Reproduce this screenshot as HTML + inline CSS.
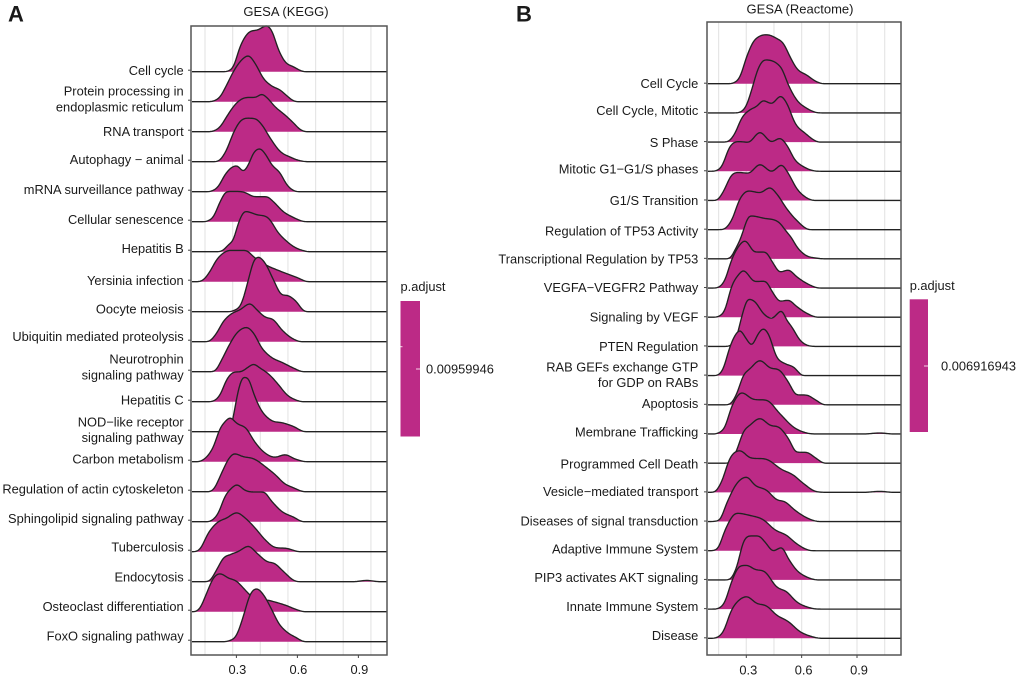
<!DOCTYPE html>
<html lang="en">
<head>
<meta charset="utf-8">
<title>GESA ridgeline plots</title>
<style>
html,body{margin:0;padding:0;background:#fff;}
#chart{display:block;width:1020px;height:679px;}
text{font-family:"Liberation Sans",Arial,sans-serif;fill:#1a1a1a;}
</style>
</head>
<body>
<svg id="chart" xmlns="http://www.w3.org/2000/svg" width="1020" height="679" viewBox="0 0 1020 679"></svg>
<script>
// ---------- Panel A (KEGG) data ----------
const categoriesA = ["Cell cycle","Protein processing in\nendoplasmic reticulum","RNA transport","Autophagy \u2212 animal","mRNA surveillance pathway","Cellular senescence","Hepatitis B","Yersinia infection","Oocyte meiosis","Ubiquitin mediated proteolysis","Neurotrophin \nsignaling pathway","Hepatitis C","NOD\u2212like receptor\nsignaling pathway","Carbon metabolism","Regulation of actin cytoskeleton","Sphingolipid signaling pathway","Tuberculosis","Endocytosis","Osteoclast differentiation","FoxO signaling pathway"];
const enrichmentA = [
[.26,.285,.318,.359,.408,.449,.474,.507,.539,.58,.638],
[.187,.22,.252,.285,.318,.359,.392,.433,.474,.515,.548,.58,.605],
[.187,.22,.252,.285,.318,.359,.392,.425,.449,.49,.539,.58,.613,.646],
[.211,.252,.285,.318,.351,.392,.425,.466,.515,.564,.613,.654],
[.179,.211,.244,.277,.302,.334,.359,.384,.416,.441,.474,.515,.548,.58,.605],
[.162,.187,.22,.252,.285,.334,.392,.449,.482,.531,.58,.63],
[.228,.261,.285,.31,.343,.4,.457,.507,.548,.58,.63,.654],
[.105,.138,.17,.203,.236,.269,.343,.392,.449,.498,.548,.597,.654],
[.285,.326,.359,.384,.408,.441,.482,.523,.556,.589,.638],
[.17,.203,.236,.269,.318,.367,.4,.441,.482,.523,.58,.621],
[.195,.228,.261,.302,.351,.384,.425,.466,.531,.58,.63],
[.187,.22,.252,.285,.326,.359,.384,.416,.466,.507,.548,.589,.63],
[.269,.285,.31,.334,.359,.384,.416,.466,.531,.58,.638],
[.105,.146,.187,.22,.244,.269,.302,.351,.384,.433,.49,.539,.589,.646],
[.187,.228,.26,.29,.334,.384,.449,.498,.531,.58,.638],
[.179,.211,.244,.277,.302,.343,.384,.433,.474,.523,.58,.63],
[.09,.121,.162,.203,.252,.302,.343,.392,.441,.49,.548,.613],
[.17,.203,.236,.269,.31,.359,.4,.449,.49,.531,.589,.613,.875,.941,1.006],
[.09,.121,.154,.187,.22,.26,.302,.334,.375,.466,.548,.597,.638],
[.26,.302,.334,.367,.4,.433,.474,.507,.548,.589,.638]
];
const densityA = [
[.07,.5,2.5,3.9,4.2,4.6,4.1,2.2,1,.5,0],
[.07,.5,1.67,3,4,4.6,3.83,2.33,1.57,1.17,.6,.1,0],
[.07,.5,1.5,2.5,3.17,3.43,3.43,3.75,3.43,2.5,1.67,.9,.23,0],
[.07,1.2,2.87,4.03,4.35,4.3,3.7,2.37,1.03,.47,.1,0],
[.07,.53,1.7,2.43,2.6,2.05,2.7,3.87,4.3,3.8,2.7,1.87,.7,.13,0],
[.1,.5,2,3,3.03,2.97,2.5,2.5,2,1,.43,.03],
[.07,.7,1.2,2.87,4.03,3.7,3.37,1.87,1.03,.53,.1,0],
[0,.2,1.03,2.2,2.87,3.13,3.13,2.37,1.63,1.2,.8,.43,0],
[.1,.87,3.2,5.03,5.47,4.87,3.2,1.7,1.6,1.13,.03],
[.1,.87,2.03,2.7,3.2,3.8,3.2,2.47,2.2,1.2,.27,0],
[.1,1.2,2.53,3.87,4.43,3.87,2.37,1.53,.87,.37,0],
[.07,.7,2.2,2.93,3.03,3.47,3.75,3.37,2.63,1.7,.7,.2,0],
[.1,1.53,4.2,5.45,5.3,3.87,2.37,1.2,.87,.53,0],
[0,.33,1.5,3.33,4,4.4,3.83,3.27,2.17,1,.45,.7,.27,0],
[.23,1.9,3.23,3.8,3.5,3.3,2.4,1.57,.9,.4,0],
[.13,.87,2.53,3.37,3.7,3.13,2.97,2.97,2.03,1.03,.47,0],
[0,.27,1.87,2.87,3.37,3.9,3.37,2.37,1.2,.43,.33,0],
[.13,1.2,2.37,2.7,3.03,3.55,2.87,2.03,1.8,1.03,.07,0,0,.13,0],
[0,.37,1.87,3.37,3.8,3.37,3.03,2.37,1.53,1.1,.6,.2,0],
[.07,.7,2.53,4.7,5.3,4.7,3.2,1.87,.97,.47,0]
];
const tickLabelsA = ["0.3","0.6","0.9"];
const legendValueA = "0.00959946";

// ---------- Panel B (Reactome) data ----------
const categoriesB = ["Cell Cycle","Cell Cycle, Mitotic","S Phase","Mitotic G1\u2212G1/S phases","G1/S Transition","Regulation of TP53 Activity","Transcriptional Regulation by TP53","VEGFA\u2212VEGFR2 Pathway","Signaling by VEGF","PTEN Regulation","RAB GEFs exchange GTP \nfor GDP on RABs","Apoptosis","Membrane Trafficking","Programmed Cell Death","Vesicle\u2212mediated transport","Diseases of signal transduction","Adaptive Immune System","PIP3 activates AKT signaling","Innate Immune System","Disease"];
const enrichmentB = [
[.23,.266,.302,.338,.374,.41,.464,.501,.537,.573,.627,.681,.717],
[.266,.302,.329,.365,.401,.464,.491,.528,.573,.627,.699],
[.202,.239,.275,.32,.356,.392,.437,.486,.519,.564,.618,.699],
[.13,.166,.211,.257,.311,.374,.437,.482,.519,.564,.609,.672],
[.139,.175,.22,.257,.311,.374,.437,.491,.528,.573,.618,.672],
[.175,.22,.266,.311,.374,.428,.464,.519,.573,.645],
[.211,.239,.266,.32,.392,.482,.51,.546,.573,.618,.681,.735],
[.148,.184,.22,.257,.293,.347,.401,.446,.482,.528,.573,.627,.699],
[.148,.184,.22,.257,.284,.347,.401,.446,.482,.528,.573,.627,.69],
[.211,.248,.275,.311,.347,.392,.437,.491,.519,.546,.591,.681],
[.148,.175,.211,.239,.266,.293,.329,.365,.392,.419,.464,.51,.555,.609],
[.211,.248,.284,.32,.374,.428,.482,.528,.573,.627,.672,.726],
[.148,.184,.22,.248,.275,.338,.41,.482,.555,.627,.69,.934,1.024,1.097],
[.211,.248,.284,.32,.374,.428,.482,.528,.573,.627,.672,.726],
[.13,.166,.211,.266,.32,.41,.491,.555,.609,.681,.75,.934,1.024,1.097],
[.13,.157,.193,.248,.302,.347,.41,.464,.51,.564,.618,.699],
[.121,.148,.184,.248,.32,.392,.455,.519,.573,.645],
[.211,.248,.284,.32,.365,.401,.446,.491,.528,.573,.627,.69],
[.148,.184,.22,.266,.302,.347,.401,.464,.519,.573,.627,.699],
[.139,.175,.22,.266,.302,.356,.41,.464,.528,.591,.645,.708]
];
const densityB = [
[.07,.7,2.7,4.2,4.77,4.9,4.53,4.03,2.7,1.53,.87,.2,0],
[.07,.8,2.3,4.47,5.3,4.97,4.47,2.8,1.3,.47,0],
[.07,.9,2.4,3.23,3.57,4.15,3.85,4.6,3.9,1.9,.9,0],
[.03,.47,2.47,2.97,2.9,3.9,2.95,3.3,2.63,1.13,.47,.03],
[.03,.87,2.53,2.8,2.73,3.6,2.9,3.55,2.7,1.2,.37,0],
[.03,.93,3.1,3.87,3.7,4.2,3.6,2.1,.93,0],
[.07,.9,1.9,4.3,4.07,3.57,2.9,2.07,1.23,.4,.07,0],
[.07,.8,2.8,4.13,4.73,3.6,3.6,2.47,1.6,1.8,1.13,.47,0],
[.07,.73,3.07,4.23,4.67,3.57,3.6,2.4,1.6,1.7,1.07,.4,0],
[.07,.97,2.97,4.73,4.47,3.3,2.8,3.57,2.63,1.97,.63,0],
[.07,.7,2.87,4.03,4.53,3.87,3.05,4.2,4.7,4.2,1.87,1.2,.87,0],
[.07,1.1,2.93,3.6,4.43,3.7,3.43,2.27,1.0,.97,.53,0],
[.1,.7,2.7,3.7,4.13,3.47,3.37,2.03,.7,.1,0,0,.1,0],
[.07,1.3,3.13,3.8,4.47,3.8,3.53,2.47,1.1,1.08,.57,0],
[.07,1.07,3.4,4.17,3.47,3.3,2.3,1.73,.9,.07,0,0,.1,0],
[.03,.2,1.8,3.8,4.45,3.63,3.13,2.2,1.97,1.13,.47,0],
[.03,.3,2.03,3.75,3.53,3.1,2.1,1.53,.7,.03],
[.07,1.3,3.8,4.4,4.4,3.8,2.9,3.25,2.13,.97,.3,0],
[.07,.73,2.73,4.3,4.38,3.97,3.73,2.23,1.73,.73,.23,0],
[.07,.67,2.83,3.9,4.17,3.5,3.23,2.33,1.67,.67,.23,0]
];
const tickLabelsB = ["0.3","0.6","0.9"];
const legendValueB = "0.006916943";

// ---------- Layout (not data) ----------
const labelShiftA = [-1,-2.7,0,-2,-2,-2,-3,-1,-2.7,-5,-4.7,-1.7,-2,-2.7,-2.7,-3,-4.7,-4.7,-5,-5.7];
const labelShiftB = [-.4,-2.2,.2,-2.3,-.2,1.3,.2,-.3,-.2,-.1,-.8,-1.1,-2,.8,-.7,-.6,-1.7,-2.2,-2.4,-3];
const FILL = "#BC2A86";
const FONT = 12.85;
const panelA = {key:"kegg",title:"GESA (KEGG)",titleX:286,titleY:11.5,letter:"A",letterX:8,left:191,right:387,top:26,bottom:655,
  x03:236.4,pxPerUnit:203.3,base0:71.7,step:30,labelRight:183.7,tickDy:-1.5,tickLabelDx:1,tickLabelY:669.5,
  gridOrigin:205,gridStep:27.65,gridCount:7,
  cats:categoriesA,xs:enrichmentA,ds:densityA,ticks:tickLabelsA,shift:labelShiftA,
  legend:{x:400.5,y:301,w:19.5,h:135.5,titleY:286.5,value:legendValueA,valueX:426,valueY:369,minorY:346.7}};
const panelB = {key:"reactome",title:"GESA (Reactome)",titleX:800,titleY:9,letter:"B",letterX:516,left:707,right:901,top:22,bottom:655,
  x03:746.3,pxPerUnit:184.5,base0:83.7,step:29.19,labelRight:698.3,tickDy:-.5,tickLabelDx:2,tickLabelY:670,
  gridOrigin:718.6,gridStep:27.68,gridCount:7,
  cats:categoriesB,xs:enrichmentB,ds:densityB,ticks:tickLabelsB,shift:labelShiftB,
  legend:{x:909.7,y:299.3,w:18.3,h:132.7,titleY:285.5,value:legendValueB,valueX:941,valueY:366,minorY:null}};

const NS = "http://www.w3.org/2000/svg";
const svg = document.getElementById("chart");

function make(tag, attrs, parent){
  const el = document.createElementNS(NS, tag);
  for (const k in attrs) el.setAttribute(k, attrs[k]);
  (parent || svg).appendChild(el);
  return el;
}

// Evaluate a limited Hermite spline through the knots on a 1px grid,
// then apply a small Gaussian kernel, so ridges read as smooth density curves.
function smoothPath(px, py, base){
  const n = px.length, dx = [], sl = [], m = new Array(n);
  for (let i = 0; i < n-1; i++){ dx[i] = px[i+1]-px[i]; sl[i] = (py[i+1]-py[i])/dx[i]; }
  m[0] = sl[0]; m[n-1] = sl[n-2];
  for (let i = 1; i < n-1; i++){
    if (sl[i-1]*sl[i] <= 0) m[i] = 0;
    else {
      const c = (sl[i-1]*dx[i]+sl[i]*dx[i-1])/(dx[i]+dx[i-1]);
      const lim = 3*Math.min(Math.abs(sl[i-1]),Math.abs(sl[i]));
      m[i] = Math.sign(c)*Math.min(Math.abs(c),lim);
    }
  }
  const gx = [], gy = [];
  let seg = 0;
  for (let x = px[0]; x <= px[n-1]+.001; x += 1){
    while (seg < n-2 && x > px[seg+1]) seg++;
    const t = (x-px[seg])/dx[seg], t2 = t*t, t3 = t2*t;
    gx.push(x);
    gy.push((2*t3-3*t2+1)*py[seg]+(t3-2*t2+t)*dx[seg]*m[seg]+(-2*t3+3*t2)*py[seg+1]+(t3-t2)*dx[seg]*m[seg+1]);
  }
  const sigma = 1.5, R = 5, out = [];
  for (let i = 0; i < gy.length; i++){
    let s = 0, w = 0;
    for (let k = -R; k <= R; k++){
      const v = (i+k >= 0 && i+k < gy.length) ? gy[i+k] : base;
      const g = Math.exp(-k*k/(2*sigma*sigma));
      s += v*g; w += g;
    }
    out.push(s/w);
  }
  let d = "M"+gx[0].toFixed(1)+" "+base.toFixed(2);
  for (let i = 1; i < gx.length; i++) d += "L"+gx[i].toFixed(1)+" "+out[i].toFixed(2);
  d += "L"+px[n-1].toFixed(1)+" "+base.toFixed(2);
  return d;
}

function slug(s){ return s.toLowerCase().replace(/[^a-z0-9]+/g,"-").replace(/^-|-$/g,""); }

function drawPanel(p){
  const xScale = v => p.x03 + (v-.3)*p.pxPerUnit;
  const densityScale = 10;
  const baseline = i => p.base0 + i*p.step;

  const letter = make("text",{x:p.letterX,y:21.5,"font-size":22,"font-weight":"bold",fill:"#000"});
  
  
  letter.textContent = p.letter;

  const title = make("text",{x:p.titleX,y:p.titleY,"font-size":13,"text-anchor":"middle","dominant-baseline":"central"});
  
  
  title.textContent = p.title;

  for (let i = 0; i < p.gridCount; i++){
    const gx = p.gridOrigin + i*p.gridStep;
    const g = make("line",{x1:gx,x2:gx,y1:p.top,y2:p.bottom,stroke:"#e6e6e6","stroke-width":1.2});
    
    
  }

  p.cats.forEach((cat,i)=>{
    const base = baseline(i);
    const vx = p.xs[i].map(xScale);
    const vy = p.ds[i].map(d=>base-d*densityScale);
    // anchor the curve flat on its baseline just before the first and after the last knot
    const xs = vx.slice(), ys = vy.slice();
    if (ys[0] !== base){ xs.unshift(vx[0]-5); ys.unshift(base); }
    if (ys[ys.length-1] !== base){ xs.push(vx[vx.length-1]+5); ys.push(base); }
    xs.unshift(p.left+1); ys.unshift(base);
    xs.push(p.right); ys.push(base);
    const curve = smoothPath(xs,ys,base);

    const area = make("path",{d:curve+"Z",fill:FILL,stroke:"none"});
    
    

    const line = make("path",{d:curve,fill:"none",stroke:"#222","stroke-width":1.35,"stroke-linejoin":"round"});
    
    

    const tick = make("line",{x1:p.left-3,x2:p.left,y1:base+p.tickDy,y2:base+p.tickDy,stroke:"#444","stroke-width":1});
    
    

    const lines = cat.split("\n");
    const cy = base + p.shift[i];
    lines.forEach((t,j)=>{
      const ty = cy + (j-(lines.length-1)/2)*15.6;
      const label = make("text",{x:p.labelRight,y:ty,"font-size":FONT,"text-anchor":"end","dominant-baseline":"central","xml:space":"preserve"});
      
      
      label.textContent = t;
    });
  });

  const frame = make("rect",{x:p.left,y:p.top,width:p.right-p.left,height:p.bottom-p.top,fill:"none",stroke:"#555","stroke-width":1.5});
  
  

  p.ticks.forEach(t=>{
    const tx = xScale(parseFloat(t));
    const tick = make("line",{x1:tx,x2:tx,y1:p.bottom,y2:p.bottom+3,stroke:"#444","stroke-width":1});
    
    
    const label = make("text",{x:tx+p.tickLabelDx,y:p.tickLabelY,"font-size":FONT,"text-anchor":"middle","dominant-baseline":"central"});
    
    
    label.textContent = t;
  });

  const L = p.legend;
  const legendTitle = make("text",{x:L.x,y:L.titleY,"font-size":FONT,"dominant-baseline":"central"});
  
  
  legendTitle.textContent = "p.adjust";

  const bar = make("rect",{x:L.x,y:L.y,width:L.w,height:L.h,fill:FILL});
  
  

  const tr = make("line",{x1:L.x+L.w-4,x2:L.x+L.w,y1:L.valueY,y2:L.valueY,stroke:"#f3d3e6","stroke-width":1});
  
  
  if (L.minorY){
    const tl = make("line",{x1:L.x,x2:L.x+2,y1:L.minorY,y2:L.minorY,stroke:"#f3d3e6","stroke-width":1});
    
    
  }

  const val = make("text",{x:L.valueX,y:L.valueY,"font-size":FONT,"dominant-baseline":"central"});
  
  
  val.textContent = L.value;
}

drawPanel(panelA);
drawPanel(panelB);
</script>
</body>
</html>
